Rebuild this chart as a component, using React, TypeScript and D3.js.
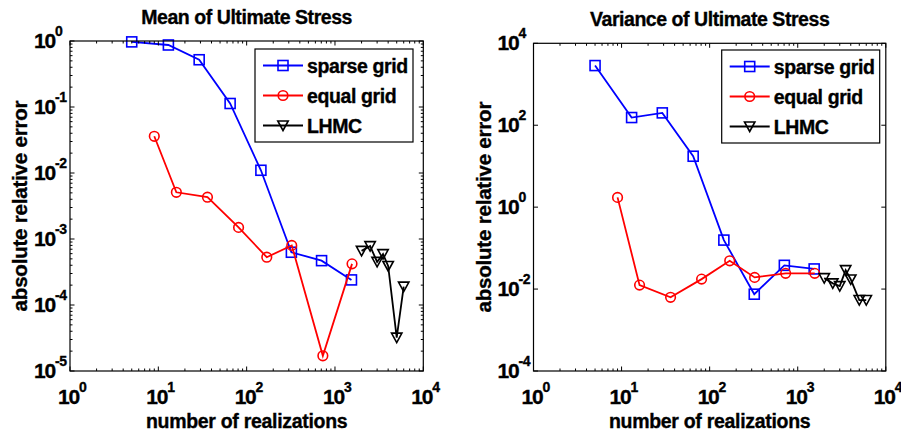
import React from 'react';
import * as d3 from 'd3';

// ---------- data ----------
const sparseN = [5, 13, 29, 65, 145, 321, 705, 1537];
const equalN = [9, 16, 36, 81, 169, 324, 729, 1560];
const lhmcN = [2000, 2500, 3000, 3500, 4000, 5000, 6000];

const meanSparse = [0.97, 0.87, 0.52, 0.113, 0.011, 6.3e-4, 4.7e-4, 2.4e-4];
const meanEqual = [0.036, 5.1e-3, 4.3e-3, 1.5e-3, 5.3e-4, 8.0e-4, 1.7e-5, 4.2e-4];
const meanLhmc = [6.6e-4, 7.8e-4, 4.5e-4, 5.9e-4, 3.9e-4, 3.2e-5, 1.9e-4];

const varSparse = [2860, 154, 200, 17.5, 0.157, 7.5e-3, 0.038, 0.031];
const varEqual = [1.73, 0.0125, 6.3e-3, 0.0175, 0.049, 0.0193, 0.0242, 0.0242];
const varLhmc = [0.0185, 0.0138, 0.0118, 0.029, 0.0172, 5.4e-3, 5.4e-3];

const seriesNames = ['sparse grid', 'equal grid', 'LHMC'];
const seriesColors = ['#0000ff', '#ff0000', '#000000'];
const seriesMarkers = ['square', 'circle', 'triangle'];

const xTickExps = [0, 1, 2, 3, 4];
const meanYTickExps = [0, -1, -2, -3, -4, -5];
const varYTickExps = [4, 2, 0, -2, -4];

const titles = ['Mean of Ultimate Stress', 'Variance of Ultimate Stress'];
const xLabel = 'number of realizations';
const yLabel = 'absolute relative error';

const FONT = '"Liberation Sans", Arial, Helvetica, sans-serif';

type Series = { name: string; color: string; marker: string; xs: number[]; ys: number[] };

function Marker({ type, x, y, color }: { type: string; x: number; y: number; color: string }) {
  const common = { fill: 'none', stroke: color, strokeWidth: 1.6 };
  if (type === 'square') return <rect x={x - 5} y={y - 5} width={10} height={10} {...common} />;
  if (type === 'circle') return <circle cx={x} cy={y} r={4.8} {...common} />;
  return <path d={`M${x - 5.2},${y - 4.5}L${x + 5.2},${y - 4.5}L${x},${y + 5}Z`} {...common} />;
}

function Panel(props: {
  left: number; right: number; top: number; bottom: number;
  yMin: number; yMax: number; yTicks: number[]; yMinor: boolean;
  title: string; series: Series[]; legendX: number; legendY: number;
}) {
  const { left, right, top, bottom, yMin, yMax, yTicks, yMinor, title, series, legendX, legendY } = props;
  const x = d3.scaleLog().domain([1, 1e4]).range([left, right]);
  const y = d3.scaleLog().domain([Math.pow(10, yMin), Math.pow(10, yMax)]).range([bottom, top]);
  const line = d3.line<[number, number]>().x((d) => x(d[0])).y((d) => y(d[1]));

  const MAJ = 4.5, MIN = 2.5;
  const ticks: JSX.Element[] = [];
  xTickExps.forEach((e, i) => {
    const v = Math.pow(10, e);
    const px = x(v);
    ticks.push(<line key={`xb${e}`} x1={px} x2={px} y1={bottom} y2={bottom - MAJ} />);
    ticks.push(<line key={`xt${e}`} x1={px} x2={px} y1={top} y2={top + MAJ} />);
    if (i < xTickExps.length - 1) {
      for (let m = 2; m <= 9; m++) {
        const mx = x(m * v);
        ticks.push(<line key={`xmb${e}-${m}`} x1={mx} x2={mx} y1={bottom} y2={bottom - MIN} />);
        ticks.push(<line key={`xmt${e}-${m}`} x1={mx} x2={mx} y1={top} y2={top + MIN} />);
      }
    }
  });
  yTicks.forEach((e) => {
    const py = y(Math.pow(10, e));
    ticks.push(<line key={`yl${e}`} x1={left} x2={left + MAJ} y1={py} y2={py} />);
    ticks.push(<line key={`yr${e}`} x1={right} x2={right - MAJ} y1={py} y2={py} />);
    if (yMinor && e > yMin) {
      for (let m = 2; m <= 9; m++) {
        const my = y(m * Math.pow(10, e - 1));
        ticks.push(<line key={`yml${e}-${m}`} x1={left} x2={left + MIN} y1={my} y2={my} />);
        ticks.push(<line key={`ymr${e}-${m}`} x1={right} x2={right - MIN} y1={my} y2={my} />);
      }
    }
  });

  const cx = (left + right) / 2;
  const cy = (top + bottom) / 2;
  const heavy = { stroke: '#000', strokeWidth: 0.35 };

  return (
    <g fontFamily={FONT} fontWeight="bold" fill="#000">
      <text x={cx} y={top - 17.5} textAnchor="middle" fontSize={19.5} letterSpacing={-0.45} {...heavy}>{title}</text>
      {series.map((s) => (
        <g key={s.name}>
          <path d={line(s.xs.map((v, i) => [v, s.ys[i]] as [number, number])) || ''} fill="none" stroke={s.color} strokeWidth={1.8} />
          {s.xs.map((v, i) => (
            <Marker key={i} type={s.marker} x={x(v)} y={y(s.ys[i])} color={s.color} />
          ))}
        </g>
      ))}
      <rect x={left} y={top} width={right - left} height={bottom - top} fill="none" stroke="#000" strokeWidth={1.2} />
      <g stroke="#000" strokeWidth={1}>{ticks}</g>
      {xTickExps.map((e) => (
        <text key={`xl${e}`} x={x(Math.pow(10, e)) - 12} y={bottom + 33} fontSize={21} letterSpacing={-1.2} {...heavy}>
          10<tspan fontSize={14} dy={-12} letterSpacing={-0.5}>{e}</tspan>
        </text>
      ))}
      {yTicks.map((e) => (
        <text key={`yl${e}`} x={left - 36} y={y(Math.pow(10, e)) + 7} fontSize={21} letterSpacing={-1.2} {...heavy}>
          10<tspan fontSize={14} dy={-12} letterSpacing={-0.5}>{e}</tspan>
        </text>
      ))}
      <text x={cx} y={428} textAnchor="middle" fontSize={19.5} letterSpacing={-0.3} {...heavy}>{xLabel}</text>
      <text transform={`translate(${left - 43},${cy}) rotate(-90)`} textAnchor="middle" fontSize={20.5} letterSpacing={-0.2} {...heavy}>{yLabel}</text>
      <g>
        <rect x={legendX} y={legendY} width={158} height={93} fill="#fff" stroke="#000" strokeWidth={1.2} />
        {series.map((s, i) => {
          const ly = legendY + 16.5 + i * 30;
          return (
            <g key={`lg${s.name}`}>
              <line x1={legendX + 8} x2={legendX + 48} y1={ly} y2={ly} stroke={s.color} strokeWidth={1.8} />
              <Marker type={s.marker} x={legendX + 28} y={ly} color={s.color} />
              <text x={legendX + 52} y={ly + 7.5} fontSize={19.5} letterSpacing={-0.4} {...heavy}>{s.name}</text>
            </g>
          );
        })}
      </g>
    </g>
  );
}

function makeSeries(ys: number[][]): Series[] {
  const xs = [sparseN, equalN, lhmcN];
  return seriesNames.map((name, i) => ({
    name, color: seriesColors[i], marker: seriesMarkers[i], xs: xs[i], ys: ys[i],
  }));
}

export default function App() {
  return (
    <div style={{ position: 'absolute', left: 0, top: 0 }}>
      <svg width={901} height={437} style={{ display: 'block', background: '#fff' }}>
        <Panel left={70} right={423.3} top={41} bottom={371} yMin={-5} yMax={0}
          yTicks={meanYTickExps} yMinor={true} title={titles[0]}
          series={makeSeries([meanSparse, meanEqual, meanLhmc])} legendX={255} legendY={49} />
        <Panel left={533.5} right={885.8} top={43.3} bottom={371} yMin={-4} yMax={4}
          yTicks={varYTickExps} yMinor={false} title={titles[1]}
          series={makeSeries([varSparse, varEqual, varLhmc])} legendX={721.7} legendY={50} />
      </svg>
    </div>
  );
}
